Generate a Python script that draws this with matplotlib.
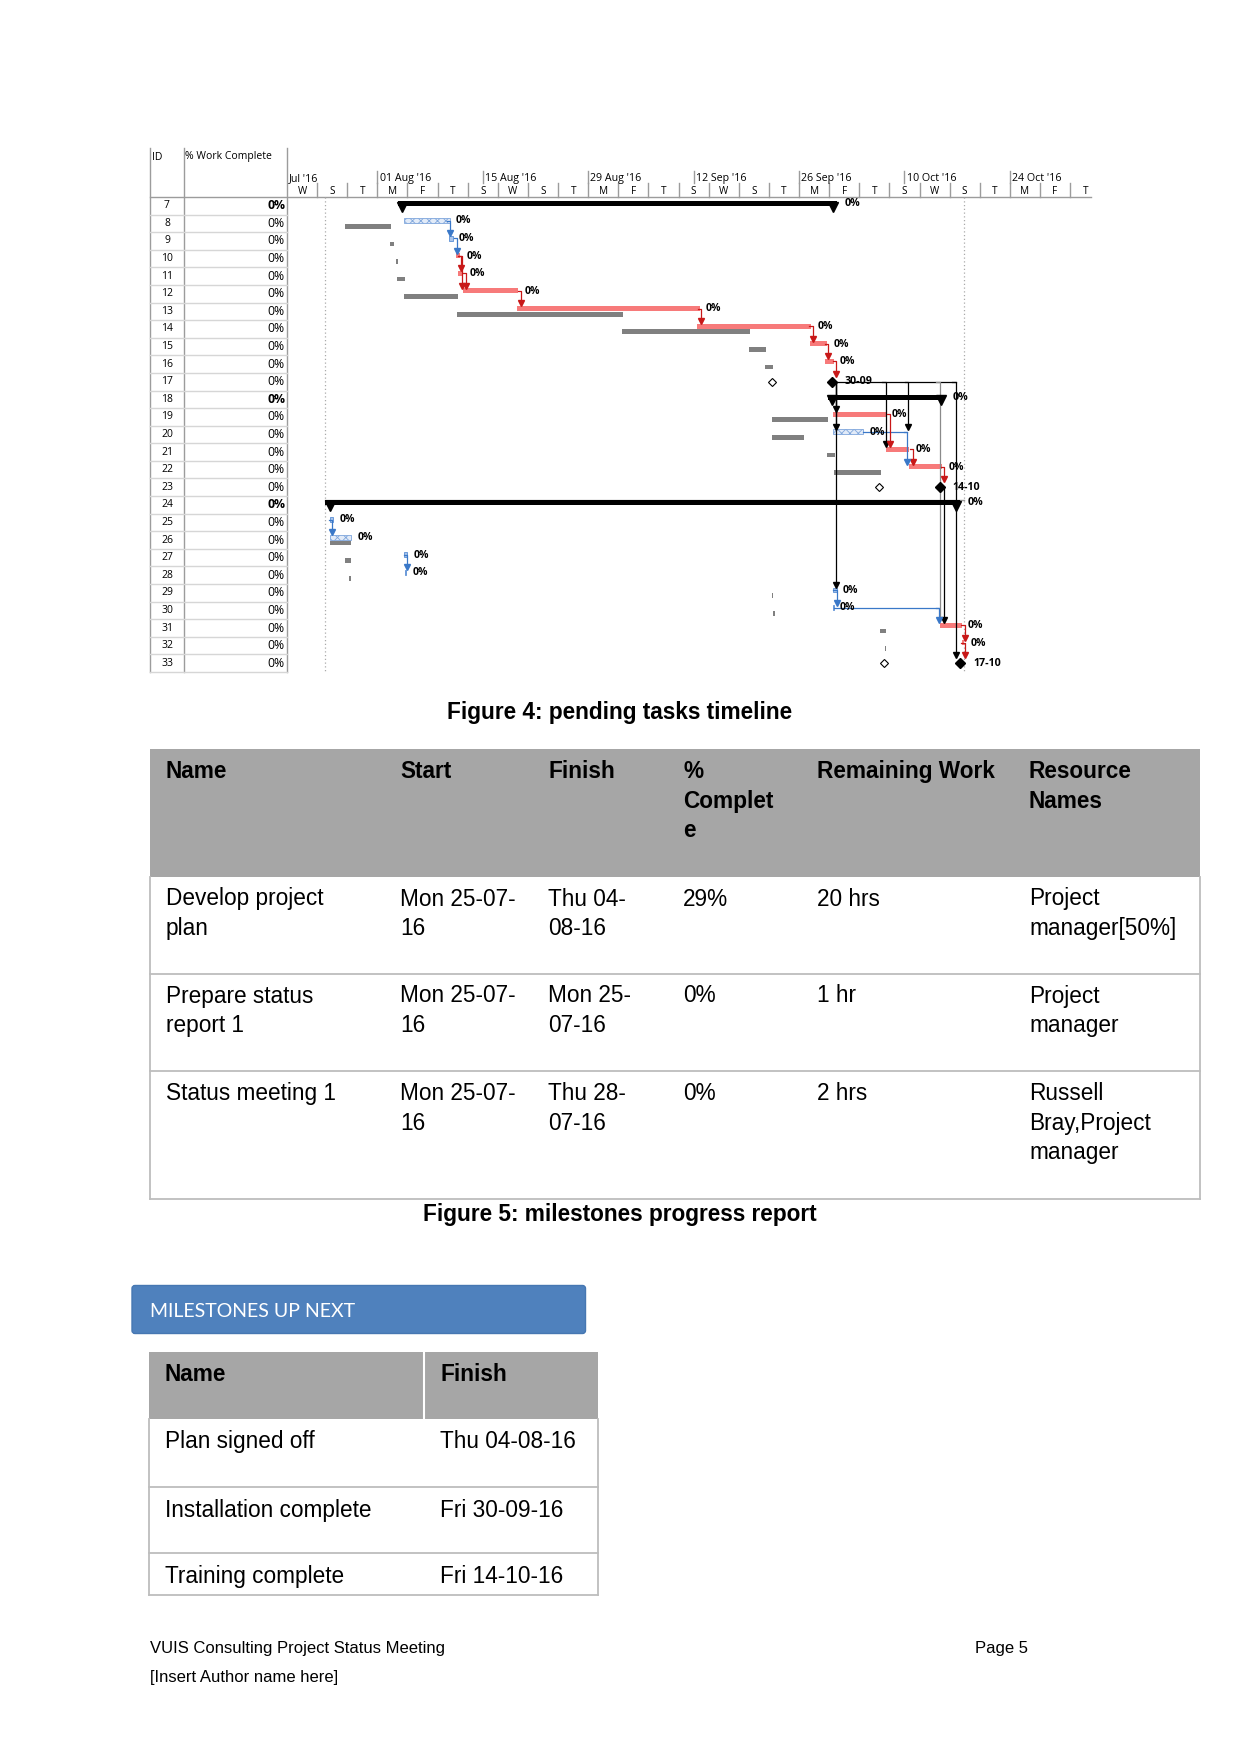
import matplotlib
matplotlib.use("Agg")
import matplotlib.pyplot as plt
import matplotlib.transforms as mtransforms
from matplotlib.patches import Rectangle, FancyBboxPatch

plt.rcParams.update({
    "font.family": ["Liberation Sans", "DejaVu Sans"],
    "hatch.linewidth": 0.6,
})

# ---------------- gantt data (days counted from Wed 20 Jul 2016) ----------------
task_ids = list(range(7, 34))
work_complete = ["0%"] * len(task_ids)

summary_ids = [7, 18, 24]
summary_start = [14.7, 71.8, 5.1]
summary_end = [73.0, 87.4, 89.4]

red_ids = [10, 11, 12, 13, 14, 15, 16, 19, 21, 22, 31, 32]
red_start = [22.5, 22.7, 23.4, 30.5, 54.5, 69.5, 71.4, 72.5, 79.5, 82.6, 86.7, 89.6]
red_end = [23.0, 23.4, 30.7, 54.8, 69.6, 71.7, 72.6, 79.5, 82.6, 87.0, 89.6, 89.9]

blue_ids = [8, 9, 20, 25, 26, 27, 28, 29, 30]
blue_start = [15.5, 21.5, 72.5, 5.7, 5.7, 15.6, 15.7, 72.5, 72.5]
blue_end = [21.6, 22.0, 76.5, 6.1, 8.5, 15.9, 15.8, 73.0, 72.6]
hatched_ids = [8, 20, 26]

base_ids = [8, 9, 10, 11, 12, 13, 14, 15, 16, 19, 20, 21, 22, 26, 27, 28, 29, 30, 31, 32]
base_start = [7.7, 13.7, 14.5, 14.6, 15.5, 22.6, 44.5, 61.4, 63.5, 64.4, 64.4, 71.7, 72.6,
              5.7, 7.7, 8.3, 64.4, 64.5, 78.7, 79.4]
base_end = [13.8, 14.2, 14.7, 15.7, 22.7, 44.6, 61.5, 63.6, 64.5, 71.8, 68.7, 72.8, 78.9,
            8.5, 8.5, 8.5, 64.6, 64.8, 79.5, 79.6]

mile_ids = [17, 23, 33]
mile_day = [72.4, 86.7, 89.4]
mile_base = [64.4, 78.6, 79.3]
mile_label = ["30-09", "14-10", "17-10"]

# dependency links: (day, from task, to task)
red_links = [(23.1, 10, 11), (23.3, 10, 12), (23.8, 11, 12), (31.1, 12, 13), (55.0, 13, 14),
             (69.8, 14, 15), (71.9, 15, 16), (72.9, 16, 17), (80.1, 19, 21), (83.2, 21, 22),
             (87.3, 22, 23), (90.0, 31, 32), (90.0, 32, 33)]
blue_links = [(21.7, 8, 9), (22.6, 9, 10), (6.0, 25, 26), (16.0, 27, 28), (73.0, 29, 30),
              (82.4, 20, 22), (86.6, 30, 31)]
black_links = [(72.9, 17, 19), (72.9, 17, 20), (72.9, 17, 29), (79.5, 17, 21), (82.5, 17, 20),
               (87.3, 23, 31), (88.8, 17, 33)]
grey_links = [(86.7, 17, 31)]
link_runs = [(17, 72.9, 88.8, "black"), (20, 76.5, 82.4, "#3a78c8"), (30, 72.6, 86.6, "#3a78c8")]

status_days = [5.1, 89.9]

major_days = [0, 12, 26, 40, 54, 68, 82, 96]
major_labels = ["Jul '16", "01 Aug '16", "15 Aug '16", "29 Aug '16", "12 Sep '16",
                "26 Sep '16", "10 Oct '16", "24 Oct '16"]
minor_letters = ["W", "S", "T", "M", "F", "T", "S", "W", "S", "T", "M", "F", "T", "S",
                 "W", "S", "T", "M", "F", "T", "S", "W", "S", "T", "M", "F", "T"]

# ---------------- tables ----------------
t1_header = ["Name", "Start", "Finish", "%\nComplet\ne", "Remaining Work", "Resource\nNames"]
t1_rows = [
    ["Develop project\nplan", "Mon 25-07-\n16", "Thu 04-\n08-16", "29%", "20 hrs", "Project\nmanager[50%]"],
    ["Prepare status\nreport 1", "Mon 25-07-\n16", "Mon 25-\n07-16", "0%", "1 hr", "Project\nmanager"],
    ["Status meeting 1", "Mon 25-07-\n16", "Thu 28-\n07-16", "0%", "2 hrs", "Russell\nBray,Project\nmanager"],
]
t2_header = ["Name", "Finish"]
t2_rows = [["Plan signed off", "Thu 04-08-16"],
           ["Installation complete", "Fri 30-09-16"],
           ["Training complete", "Fri 14-10-16"]]

RED = "#f77a7a"
RED_LINK = "#c81818"
BLUE = "#3a78c8"
GREY = "#808080"

W, H = 1241, 1754
fig = plt.figure(figsize=(W / 100, H / 100), dpi=100)
page = fig.add_axes([0, 0, 1, 1])
page.set_xlim(0, W)
page.set_ylim(H, 0)
page.axis("off")

GX0, GX1, GY0, GY1 = 287, 1091, 197, 672
PX_DAY = 7.53
ax = fig.add_axes([GX0 / W, 1 - GY1 / H, (GX1 - GX0) / W, (GY1 - GY0) / H])
ax.set_xlim(0, (GX1 - GX0) / PX_DAY)
ax.set_ylim(33.5, 6.5)
ax.axis("off")
ax.patch.set_alpha(0)

day_page = mtransforms.blended_transform_factory(ax.transData, page.transData)
page_row = mtransforms.blended_transform_factory(page.transData, ax.transData)

gfont = ["Open Sans", "DejaVu Sans"]

# left grid (ID / % Work Complete)
for x in [150, 184, 287]:
    page.plot([x, x], [148, 672], color="#9c9c9c", lw=1)
for i in task_ids:
    page.plot([150, 287], [i + 0.5, i + 0.5], color="#d6d6d6", lw=1, transform=page_row)
page.plot([150, 1091], [197, 197], color="#9c9c9c", lw=1)
page.text(152, 157, "ID", fontsize=7.5, family=gfont, va="center")
page.text(185, 157, "% Work Complete", fontsize=7.5, family=gfont, va="center")
for i, pct in zip(task_ids, work_complete):
    wt = "bold" if i in summary_ids else "normal"
    page.text(167, i, str(i), fontsize=7.5, family=gfont, ha="center", va="center",
              transform=page_row)
    page.text(285, i, pct, fontsize=8.8, family=gfont, ha="right", va="center",
              fontweight=wt, transform=page_row)

# timescale header
for d, lab in zip(major_days, major_labels):
    if d > 0:
        page.plot([d, d], [171, 183], color="#9c9c9c", lw=1, transform=day_page)
    page.text(d + 0.3, 178.5, lab, fontsize=7.7, family=gfont, va="center", transform=day_page)
for k, let in enumerate(minor_letters):
    if k > 0:
        page.plot([4 * k, 4 * k], [183, 197], color="#9c9c9c", lw=1, transform=day_page)
    page.text(4 * k + 2, 191, let, fontsize=7.2, family=gfont, ha="center", va="center",
              transform=day_page)

# status lines
for d in status_days:
    ax.plot([d, d], [6.5, 33.5], color="#aaaaaa", lw=0.9, ls=(0, (1, 2)), zorder=1)

# baseline bars
ax.barh([i + 0.165 for i in base_ids], [e - s for s, e in zip(base_start, base_end)],
        left=base_start, height=0.27, color=GREY, zorder=2)
ax.plot([5.1, 89.9], [24 - 0.28, 24 - 0.28], color="#9a9a9a", lw=1, zorder=2)

# actual bars
ax.barh([i - 0.16 for i in red_ids], [e - s for s, e in zip(red_start, red_end)],
        left=red_start, height=0.28, color=RED, zorder=3)
for i, s, e in zip(blue_ids, blue_start, blue_end):
    if i in hatched_ids:
        ax.barh(i - 0.16, e - s, left=s, height=0.28, facecolor="#e2ebf8",
                edgecolor="#7fa6dc", hatch="xxxx", lw=0.6, zorder=3)
    else:
        ax.barh(i - 0.16, e - s, left=s, height=0.28, facecolor="#a9c4ea",
                edgecolor="#5b8fd6", lw=0.6, zorder=3)

# summary bars
for i, s, e in zip(summary_ids, summary_start, summary_end):
    ax.barh(i - 0.11, e - s, left=s, height=0.28, color="black", zorder=4)
    ax.plot([s + 0.55, e - 0.55], [i + 0.05, i + 0.05], ls="none", marker="v", ms=6.5,
            color="black", zorder=4)
    ax.text(e + 1.0, i - 0.12, "0%", fontsize=7.7, family=gfont, fontweight="bold",
            va="center", zorder=5)

# milestones
for i, d, b, lab in zip(mile_ids, mile_day, mile_base, mile_label):
    ax.plot(b, i, marker="D", ms=4.2, mfc="white", mec="black", mew=0.8, zorder=5)
    ax.plot(d, i, marker="D", ms=5, color="black", zorder=5)
    ax.text(d + 1.7, i, lab, fontsize=7.7, family=gfont, fontweight="bold", va="center", zorder=5)

# task labels
for ids, ends in [(red_ids, red_end), (blue_ids, blue_end)]:
    for i, e in zip(ids, ends):
        ax.text(e + 0.85, i - 0.14, "0%", fontsize=7.5, family=gfont, fontweight="bold",
                va="center", zorder=5)

# links
def level(row):
    return row if row in mile_ids else row - 0.16

for y, x0, x1, c in link_runs:
    ax.plot([x0, x1], [level(y), level(y)], color=c, lw=0.9, zorder=3)
for links, c, arrow in [(grey_links, "#8a8a8a", False), (black_links, "black", True),
                        (red_links, RED_LINK, True), (blue_links, BLUE, True)]:
    for x, r0, r1 in links:
        ax.plot([x - 0.45, x, x], [level(r0), level(r0), r1 - 0.45], color=c, lw=0.9, zorder=3)
        if arrow:
            ax.plot(x, r1 - 0.45, marker="v", ms=5, color=c, zorder=4)

# ---------------- captions and tables ----------------
FS = 16.3
LINE = 29.6
page.text(620, 718.5, "Figure 4: pending tasks timeline", fontsize=FS, fontweight="bold",
          ha="center", va="baseline")

t1_x = [165.5, 400, 548, 683, 817, 1029]
page.add_patch(Rectangle((149.5, 748.5), 1050.5, 128, facecolor="#a6a6a6", edgecolor="none"))
for y in [973.5, 1071, 1198.5]:
    page.plot([149.5, 1200], [y, y], color="#bdbdbd", lw=1.3)
for x in [149.5, 1200]:
    page.plot([x, x], [876.5, 1198.5], color="#bdbdbd", lw=1.3)
for x, txt in zip(t1_x, t1_header):
    for k, line in enumerate(txt.split("\n")):
        page.text(x, 778 + k * LINE, line, fontsize=FS, fontweight="bold", va="baseline")
for base, row in zip([905.5, 1002.5, 1100], t1_rows):
    for x, txt in zip(t1_x, row):
        for k, line in enumerate(txt.split("\n")):
            page.text(x, base + k * LINE, line, fontsize=FS, va="baseline")

page.text(620, 1221, "Figure 5: milestones progress report", fontsize=FS, fontweight="bold",
          ha="center", va="baseline")

page.add_patch(FancyBboxPatch((132, 1285.5), 453.5, 48, boxstyle="round,pad=0,rounding_size=3",
                              facecolor="#4f81bd", edgecolor="#4677b2", lw=1))
page.text(150, 1317, "MILESTONES UP NEXT", fontsize=14, family=["Lato", "DejaVu Sans"],
          color="white", va="baseline")

t2_x = [165, 440]
page.add_patch(Rectangle((149.3, 1352), 448.4, 67, facecolor="#a6a6a6", edgecolor="none"))
page.plot([424.3, 424.3], [1352, 1419], color="white", lw=1.5)
for y in [1486.7, 1553, 1595]:
    page.plot([149.3, 597.7], [y, y], color="#bdbdbd", lw=1.3)
for x in [149.3, 597.7]:
    page.plot([x, x], [1419, 1595], color="#bdbdbd", lw=1.3)
for x, txt in zip(t2_x, t2_header):
    page.text(x, 1381, txt, fontsize=FS, fontweight="bold", va="baseline")
for base, row in zip([1448.3, 1516.7, 1583.3], t2_rows):
    for x, txt in zip(t2_x, row):
        page.text(x, base, txt, fontsize=FS, va="baseline")

page.text(150, 1653, "VUIS Consulting Project Status Meeting", fontsize=12, va="baseline")
page.text(150, 1682, "[Insert Author name here]", fontsize=12, va="baseline")
page.text(975, 1653, "Page 5", fontsize=12, va="baseline")

fig.savefig("out.png", dpi=100)
